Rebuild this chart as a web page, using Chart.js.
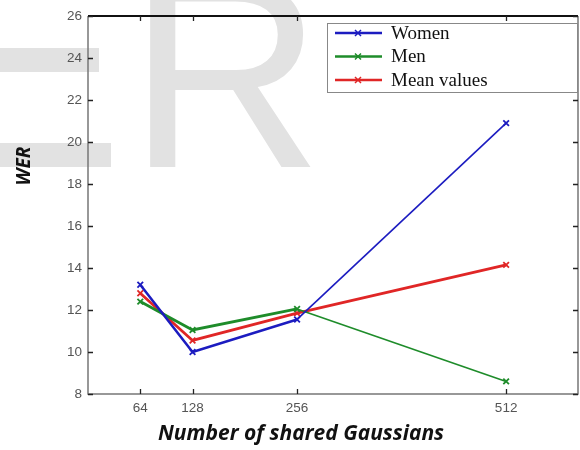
<!DOCTYPE html>
<html>
<head>
<meta charset="utf-8">
<script src="https://cdn.jsdelivr.net/npm/chart.js@4.4.1/dist/chart.umd.min.js"></script>
<style>
  html, body { margin: 0; padding: 0; background: #fff; }
  canvas { display: block; }
</style>
</head>
<body>
<canvas id="werChart" width="580" height="450"></canvas>
<script>
const gaussians = [64, 128, 256, 512];
const womenWer = [13.2, 10.0, 11.55, 20.9];
const menWer = [12.4, 11.05, 12.05, 8.6];
const meanWer = [12.8, 10.55, 11.85, 14.15];
const yTicks = [8, 10, 12, 14, 16, 18, 20, 22, 24, 26];
const seriesNames = ['Women', 'Men', 'Mean values'];
const seriesColors = ['#1c1cc0', '#1e8c2a', '#e02626'];

function toPoints(values) {
  return gaussians.map((g, i) => ({ x: g, y: values[i] }));
}

// faint scan watermark behind the figure
const watermark = {
  id: 'watermark',
  beforeDraw(chart) {
    const ctx = chart.ctx;
    ctx.save();
    ctx.fillStyle = '#e2e2e2';
    ctx.fillRect(0, 48, 99, 24);
    ctx.fillRect(0, 143, 111, 24);
    ctx.font = '270px "Liberation Sans", Arial, sans-serif';
    ctx.textBaseline = 'alphabetic';
    ctx.fillText('R', 128, 167);
    ctx.restore();
  }
};

// box, inward tick marks and axis titles
const frame = {
  id: 'frame',
  afterDraw(chart) {
    const ctx = chart.ctx;
    const a = chart.chartArea;
    const xs = chart.scales.x;
    const ys = chart.scales.y;
    ctx.save();
    ctx.lineWidth = 1.5;
    ctx.strokeStyle = '#777';
    ctx.beginPath();
    ctx.moveTo(a.left, a.top);
    ctx.lineTo(a.left, a.bottom);
    ctx.lineTo(a.right, a.bottom);
    ctx.lineTo(a.right, a.top);
    ctx.stroke();
    ctx.strokeStyle = '#111';
    ctx.lineWidth = 2;
    ctx.beginPath();
    ctx.moveTo(a.left, a.top);
    ctx.lineTo(a.right, a.top);
    ctx.stroke();

    ctx.lineWidth = 1.3;
    ctx.strokeStyle = '#222';
    ctx.beginPath();
    gaussians.forEach(v => {
      const px = Math.round(xs.getPixelForValue(v)) + 0.5;
      ctx.moveTo(px, a.bottom); ctx.lineTo(px, a.bottom - 5);
      ctx.moveTo(px, a.top); ctx.lineTo(px, a.top + 5);
    });
    yTicks.forEach(v => {
      const py = Math.round(ys.getPixelForValue(v)) + 0.5;
      ctx.moveTo(a.left, py); ctx.lineTo(a.left + 5, py);
      ctx.moveTo(a.right, py); ctx.lineTo(a.right - 5, py);
    });
    ctx.stroke();

    ctx.fillStyle = '#111';
    ctx.font = 'italic bold 21px "Open Sans", sans-serif';
    ctx.textAlign = 'center';
    ctx.textBaseline = 'middle';
    ctx.fillText('Number of shared Gaussians', 301, 434);
    ctx.translate(25, 166);
    ctx.rotate(-Math.PI / 2);
    ctx.font = 'italic bold 19px "Open Sans", sans-serif';
    ctx.fillText('WER', 0, 0);
    ctx.restore();
  }
};

// legend box in the top right corner
const legendBox = {
  id: 'legendBox',
  afterDraw(chart) {
    const ctx = chart.ctx;
    ctx.save();
    ctx.fillStyle = '#fff';
    ctx.fillRect(327, 23, 250, 69);
    ctx.strokeStyle = '#888';
    ctx.lineWidth = 1;
    ctx.strokeRect(327.5, 23.5, 250, 69);
    ctx.font = '19px "Liberation Serif", "Times New Roman", serif';
    ctx.textBaseline = 'middle';
    ctx.textAlign = 'left';
    seriesNames.forEach((name, i) => {
      const y = 33 + i * 23.5;
      ctx.strokeStyle = seriesColors[i];
      ctx.lineWidth = 2.5;
      ctx.beginPath();
      ctx.moveTo(335, y); ctx.lineTo(382, y);
      ctx.stroke();
      ctx.lineWidth = 1.5;
      ctx.beginPath();
      ctx.moveTo(355, y - 3); ctx.lineTo(361, y + 3);
      ctx.moveTo(361, y - 3); ctx.lineTo(355, y + 3);
      ctx.stroke();
      ctx.fillStyle = '#111';
      ctx.fillText(name, 391, y + 1);
    });
    ctx.restore();
  }
};

const thinLast = w => ctx => (ctx.p0DataIndex === 2 ? w : undefined);

new Chart(document.getElementById('werChart'), {
  type: 'line',
  data: {
    datasets: [
      {
        label: seriesNames[0],
        data: toPoints(womenWer),
        borderColor: seriesColors[0],
        borderWidth: 2.5,
        segment: { borderWidth: thinLast(1.6) }
      },
      {
        label: seriesNames[1],
        data: toPoints(menWer),
        borderColor: seriesColors[1],
        borderWidth: 2.8,
        segment: { borderWidth: thinLast(1.6) }
      },
      {
        label: seriesNames[2],
        data: toPoints(meanWer),
        borderColor: seriesColors[2],
        borderWidth: 2.8
      }
    ].map(ds => Object.assign(ds, {
      fill: false,
      tension: 0,
      pointStyle: 'crossRot',
      pointRadius: 4,
      pointBorderWidth: 1.8,
      pointBorderColor: ds.borderColor,
      pointBackgroundColor: ds.borderColor
    }))
  },
  options: {
    responsive: false,
    animation: false,
    devicePixelRatio: 1,
    layout: { autoPadding: false, padding: { top: 16, right: 2, left: 0, bottom: 0 } },
    plugins: {
      legend: { display: false },
      tooltip: { enabled: false }
    },
    scales: {
      x: {
        type: 'linear',
        min: 0,
        max: 600,
        afterBuildTicks: scale => { scale.ticks = gaussians.map(v => ({ value: v })); },
        afterFit: scale => {
          scale.height = 56;
          scale.paddingLeft = 0;
          scale.paddingRight = 0;
        },
        grid: { display: false, drawTicks: false },
        border: { display: false },
        ticks: {
          padding: 6,
          color: '#555',
          font: { family: '"Liberation Sans", Arial, sans-serif', size: 13.5 },
          maxRotation: 0,
          autoSkip: false
        }
      },
      y: {
        min: 8,
        max: 26,
        afterBuildTicks: scale => { scale.ticks = yTicks.map(v => ({ value: v })); },
        afterFit: scale => {
          scale.width = 88;
          scale.paddingTop = 0;
          scale.paddingBottom = 0;
        },
        grid: { display: false, drawTicks: false },
        border: { display: false },
        ticks: {
          padding: 6,
          color: '#555',
          font: { family: '"Liberation Sans", Arial, sans-serif', size: 13.5 }
        }
      }
    }
  },
  plugins: [watermark, frame, legendBox]
});
</script>
</body>
</html>
